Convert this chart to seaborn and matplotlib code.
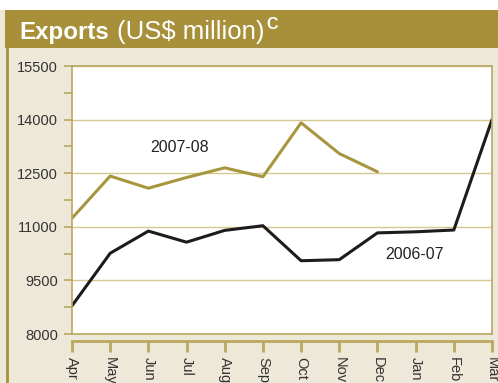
import matplotlib
matplotlib.use("Agg")
import matplotlib.pyplot as plt
import seaborn as sns
import pandas as pd
from matplotlib.patches import Rectangle
from matplotlib.lines import Line2D

months = ["Apr", "May", "Jun", "Jul", "Aug", "Sep", "Oct", "Nov", "Dec", "Jan", "Feb", "Mar"]
exports_2006_07 = [8790, 10260, 10880, 10570, 10900, 11030, 10050, 10080, 10830, 10860, 10910, 14000]
exports_2007_08 = [11240, 12420, 12080, 12380, 12650, 12400, 13910, 13050, 12540]
y_ticks = [8000, 9500, 11000, 12500, 14000, 15500]

BEIGE = "#EDE8D8"
OLIVE = "#A8903A"
LINE_OLIVE = "#A8963F"
GRID = "#D6C88E"
SPINE = "#BBA760"

sns.set_theme(style="white")
plt.rcParams["font.family"] = ["Liberation Sans", "DejaVu Sans"]

W, H = 498, 383
PT = 72 / 100  # points per pixel
fig = plt.figure(figsize=(W / 100, H / 100), dpi=100)
fig.patch.set_facecolor(BEIGE)

def fx(px):
    return px / W

def fy(py):
    return 1 - py / H

# white strip on top, olive title band, left border
fig.patches.append(Rectangle((0, fy(10)), 1, 10 / H, transform=fig.transFigure,
                             facecolor="white", edgecolor="none", zorder=0))
fig.patches.append(Rectangle((fx(5), fy(47.5)), 1, 37.5 / H, transform=fig.transFigure,
                             facecolor=OLIVE, edgecolor="none", zorder=1))
fig.lines.append(Line2D([fx(7), fx(7)], [0, fy(47)], transform=fig.transFigure,
                        color=OLIVE, lw=2))

fig.text(fx(19), fy(39), "Exports", color="white", fontsize=17.4, fontweight="bold",
         ha="left", va="baseline")
fig.text(fx(117), fy(39), "(US$ million)", color="white", fontsize=18.5,
         ha="left", va="baseline")
fig.text(fx(266), fy(29), "C", color="white", fontsize=11.5, fontweight="bold",
         ha="left", va="baseline")

# main plot
left, right, top, bottom = 72, 492, 66, 334
ax = fig.add_axes([fx(left), fy(bottom), (right - left) / W, (bottom - top) / H])
ax.set_facecolor("white")

df = pd.DataFrame({
    "month": months + months[:len(exports_2007_08)],
    "value": exports_2006_07 + exports_2007_08,
    "year": ["2006-07"] * len(exports_2006_07) + ["2007-08"] * len(exports_2007_08),
})
sns.lineplot(data=df, x="month", y="value", hue="year", sort=False,
             palette={"2006-07": "#1C1C1C", "2007-08": LINE_OLIVE},
             linewidth=2.2, legend=False, ax=ax)

ax.set_xlim(0, len(months) - 1)
ax.set_ylim(y_ticks[0], y_ticks[-1])
ax.set_yticks(y_ticks)
ax.set_yticks([v + 750 for v in y_ticks[:-1]], minor=True)
ax.set_yticklabels([str(v) for v in y_ticks], fontsize=10.5, color="#333333")
ax.tick_params(axis="y", which="both", direction="out", length=8 * PT, width=1.2,
               color=SPINE, left=True, pad=6 * PT)
ax.tick_params(axis="x", bottom=False, labelbottom=False)
ax.set_xlabel("")
ax.set_ylabel("")
ax.grid(axis="y", color=GRID, lw=1)
ax.set_axisbelow(True)
for s in ax.spines.values():
    s.set_color(SPINE)
    s.set_linewidth(1.2)

ax.text(2.83, 13233, "2007-08", ha="center", va="center", fontsize=11.5, color="#222222")
ax.text(8.96, 10211, "2006-07", ha="center", va="center", fontsize=11.5, color="#222222")

# separate x tick axis
ax2 = fig.add_axes([fx(left), fy(341), (right - left) / W, 0.0001])
ax2.set_facecolor("none")
ax2.set_xlim(0, len(months) - 1)
ax2.set_xticks(range(len(months)))
ax2.set_xticklabels(months, rotation=-90, fontsize=10.5, color="#333333", va="top")
ax2.set_yticks([])
for k, s in ax2.spines.items():
    s.set_visible(k == "bottom")
ax2.spines["bottom"].set_color(SPINE)
ax2.spines["bottom"].set_linewidth(2)
ax2.tick_params(axis="x", direction="out", length=11 * PT, width=2, color=SPINE,
                bottom=True, pad=5 * PT)

fig.savefig("out.png", dpi=100, facecolor=BEIGE)
